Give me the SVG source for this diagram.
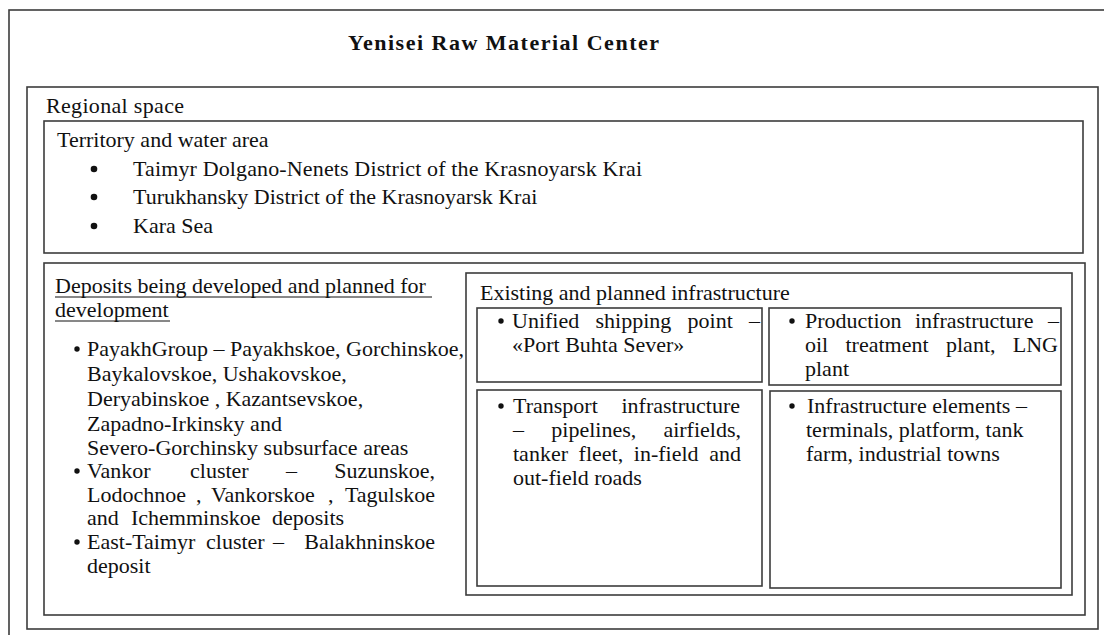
<svg xmlns="http://www.w3.org/2000/svg" width="1104" height="635" viewBox="0 0 1104 635">
<style>
.box{fill:none;stroke:#3c3c3c;stroke-width:1.6}
.t{font-family:"Liberation Serif","Times New Roman",serif;font-size:22px;fill:#111}
.e{text-anchor:end}
.title{font-family:"Liberation Serif","Times New Roman",serif;font-size:22px;font-weight:bold;fill:#111}
.b{fill:#111}
.u{stroke:#111;stroke-width:1}
</style>
<rect width="1104" height="635" fill="#fff"/>
<g id="outer">
<rect class="box" x="9" y="10" width="1110" height="640"/>
<text class="title" x="348" y="50" textLength="311" lengthAdjust="spacing">Yenisei Raw Material Center</text>
</g>
<g id="regional">
<rect class="box" x="27" y="87" width="1071" height="542"/>
<text class="t" x="46" y="113" textLength="138" lengthAdjust="spacing">Regional space</text>
</g>
<g id="territory">
<rect class="box" x="44" y="121" width="1039" height="132"/>
<text class="t" x="57" y="147">Territory and water area</text>
<circle class="b" cx="94" cy="169" r="3.3"/>
<circle class="b" cx="94" cy="197" r="3.3"/>
<circle class="b" cx="94" cy="226" r="3.3"/>
<text class="t" x="133" y="176" textLength="509" lengthAdjust="spacing">Taimyr Dolgano-Nenets District of the Krasnoyarsk Krai</text>
<text class="t" x="133" y="204">Turukhansky District of the Krasnoyarsk Krai</text>
<text class="t" x="133" y="233">Kara Sea</text>
</g>
<g id="deposits">
<rect class="box" x="44" y="263" width="1041" height="352"/>
<text class="t" x="55" y="293">Deposits being developed and planned for</text>
<line class="u" x1="55" y1="297" x2="432" y2="297"/>
<text class="t" x="55" y="317">development</text>
<line class="u" x1="55" y1="321" x2="170" y2="321"/>
<circle class="b" cx="77" cy="349" r="2.7"/>
<circle class="b" cx="77" cy="471" r="2.7"/>
<circle class="b" cx="77" cy="542" r="2.7"/>
<text class="t" x="87" y="356">PayakhGroup – Payakhskoe, Gorchinskoe,</text>
<text class="t" x="87" y="381">Baykalovskoe, Ushakovskoe,</text>
<text class="t" x="87" y="406">Deryabinskoe , Kazantsevskoe,</text>
<text class="t" x="87" y="431">Zapadno-Irkinsky and</text>
<text class="t" x="87" y="455">Severo-Gorchinsky subsurface areas</text>
<text class="t" x="87" y="478">Vankor</text>
<text class="t" x="190" y="478">cluster</text>
<text class="t" x="286" y="478">–</text>
<text class="t e" x="435" y="478">Suzunskoe,</text>
<text class="t" x="87" y="502">Lodochnoe</text>
<text class="t" x="196" y="502">,</text>
<text class="t" x="211" y="502">Vankorskoe</text>
<text class="t" x="328" y="502">,</text>
<text class="t e" x="435" y="502">Tagulskoe</text>
<text class="t" x="87" y="525">and</text>
<text class="t" x="131" y="525">Ichemminskoe</text>
<text class="t" x="272" y="525">deposits</text>
<text class="t" x="87" y="549">East-Taimyr</text>
<text class="t" x="206" y="549">cluster</text>
<text class="t" x="273" y="549">–</text>
<text class="t e" x="435" y="549">Balakhninskoe</text>
<text class="t" x="87" y="573">deposit</text>
</g>
<g id="infrastructure">
<rect class="box" x="466" y="273" width="606" height="322"/>
<text class="t" x="480" y="300">Existing and planned infrastructure</text>
</g>
<g id="shipping">
<rect class="box" x="477" y="308" width="285" height="74"/>
<circle class="b" cx="501" cy="321" r="2.7"/>
<text class="t" x="512" y="328">Unified</text>
<text class="t" x="595.5" y="328">shipping</text>
<text class="t" x="687.6" y="328">point</text>
<text class="t e" x="760" y="328">–</text>
<text class="t" x="512" y="352">«Port Buhta Sever»</text>
</g>
<g id="production">
<rect class="box" x="769" y="308" width="292" height="77"/>
<circle class="b" cx="792" cy="321" r="2.7"/>
<text class="t" x="805" y="328">Production</text>
<text class="t" x="915" y="328">infrastructure</text>
<text class="t e" x="1059" y="328">–</text>
<text class="t" x="805" y="352">oil</text>
<text class="t" x="845.5" y="352">treatment</text>
<text class="t" x="946" y="352">plant,</text>
<text class="t e" x="1058" y="352">LNG</text>
<text class="t" x="805" y="376">plant</text>
</g>
<g id="transport">
<rect class="box" x="477" y="390" width="285" height="196"/>
<circle class="b" cx="501" cy="406" r="2.7"/>
<text class="t" x="513" y="413">Transport</text>
<text class="t e" x="740" y="413">infrastructure</text>
<text class="t" x="513" y="437">–</text>
<text class="t" x="551.3" y="437">pipelines,</text>
<text class="t e" x="741" y="437">airfields,</text>
<text class="t" x="513" y="461">tanker</text>
<text class="t" x="578.6" y="461">fleet,</text>
<text class="t" x="633.8" y="461">in-field</text>
<text class="t e" x="741" y="461">and</text>
<text class="t" x="513" y="485">out-field roads</text>
</g>
<g id="elements">
<rect class="box" x="770" y="391" width="291" height="197"/>
<circle class="b" cx="792" cy="406" r="2.7"/>
<text class="t" x="807" y="413">Infrastructure elements –</text>
<text class="t" x="806" y="437">terminals, platform, tank</text>
<text class="t" x="806" y="461">farm, industrial towns</text>
</g>
<g id="connectors"/>
</svg>
